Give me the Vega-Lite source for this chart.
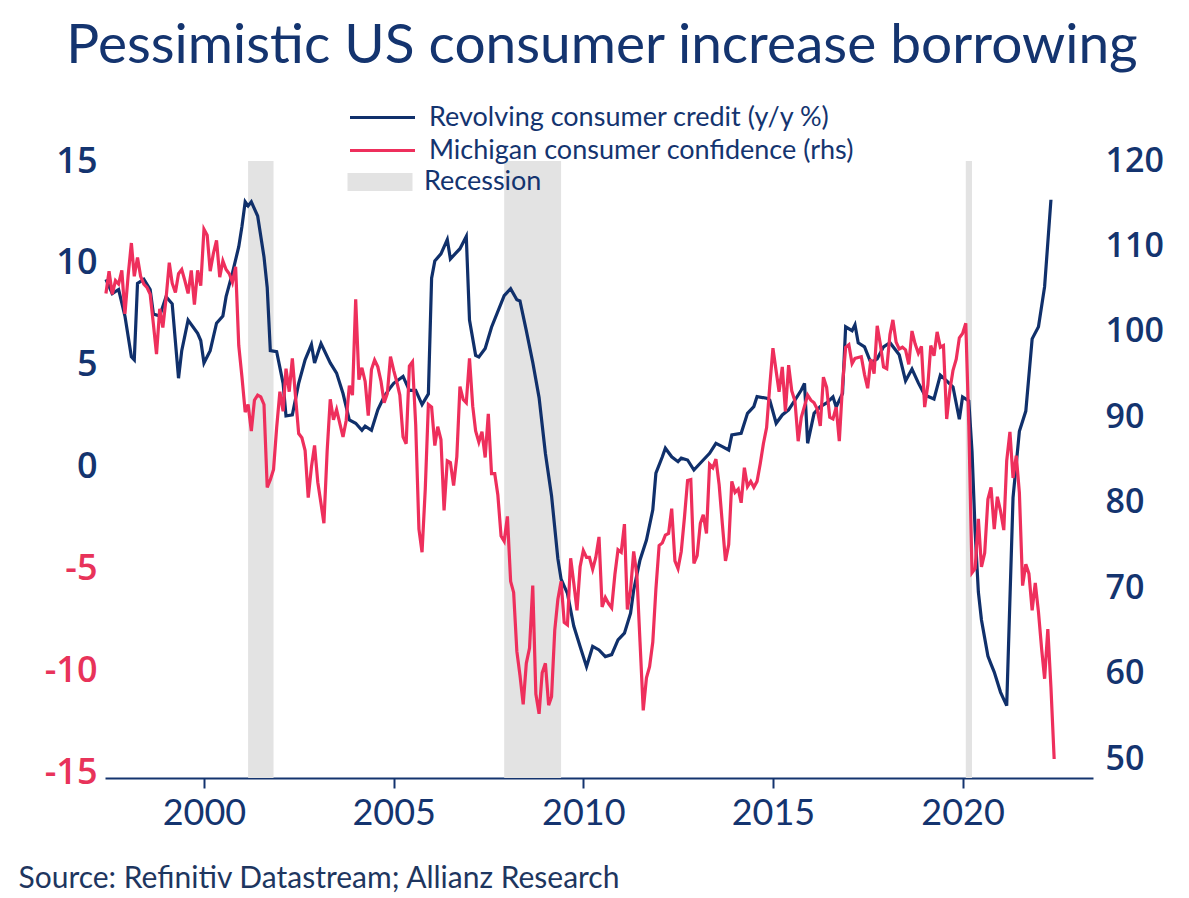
{
  "$schema": "https://vega.github.io/schema/vega-lite/v6.json",
  "width": 988,
  "height": 617,
  "autosize": {"type": "none"},
  "padding": {"left": 105, "top": 161, "right": 96, "bottom": 120},
  "background": "white",
  "title": {
    "text": "Pessimistic US consumer increase borrowing",
    "anchor": "middle",
    "frame": "group",
    "font": "Lato",
    "fontSize": 55,
    "fontWeight": "normal",
    "color": "#14346f",
    "dx": 3,
    "offset": 29
  },
  "config": {"view": {"stroke": null}, "font": "Lato"},
  "datasets": {
    "recessions": [
      {"start": "2001-03-01", "end": "2001-11-01"},
      {"start": "2007-12-01", "end": "2009-06-01"},
      {"start": "2020-02-01", "end": "2020-04-01"}
    ],
    "credit": [
      {"date": "1997-06-01", "value": 9.2},
      {"date": "1997-08-01", "value": 8.5},
      {"date": "1997-10-01", "value": 8.7},
      {"date": "1997-12-01", "value": 7.4},
      {"date": "1998-02-01", "value": 5.4},
      {"date": "1998-03-01", "value": 5.25},
      {"date": "1998-04-01", "value": 9.0},
      {"date": "1998-06-01", "value": 9.2},
      {"date": "1998-08-01", "value": 8.7},
      {"date": "1998-09-01", "value": 7.5},
      {"date": "1998-11-01", "value": 7.4},
      {"date": "1999-01-01", "value": 8.35},
      {"date": "1999-03-01", "value": 8.0},
      {"date": "1999-05-01", "value": 4.35},
      {"date": "1999-06-01", "value": 5.7},
      {"date": "1999-08-01", "value": 7.2},
      {"date": "1999-11-01", "value": 6.55},
      {"date": "1999-12-01", "value": 6.2},
      {"date": "2000-01-01", "value": 5.1},
      {"date": "2000-03-01", "value": 5.7},
      {"date": "2000-05-01", "value": 7.05},
      {"date": "2000-07-01", "value": 7.4},
      {"date": "2000-08-01", "value": 8.35},
      {"date": "2000-10-01", "value": 9.5},
      {"date": "2000-12-01", "value": 10.8},
      {"date": "2001-01-01", "value": 11.8},
      {"date": "2001-02-01", "value": 13.0},
      {"date": "2001-03-01", "value": 12.8},
      {"date": "2001-04-01", "value": 13.0},
      {"date": "2001-06-01", "value": 12.3},
      {"date": "2001-08-01", "value": 10.3},
      {"date": "2001-09-01", "value": 8.8},
      {"date": "2001-10-01", "value": 5.7},
      {"date": "2001-12-01", "value": 5.65},
      {"date": "2002-02-01", "value": 4.1},
      {"date": "2002-03-01", "value": 2.5},
      {"date": "2002-05-01", "value": 2.55},
      {"date": "2002-07-01", "value": 4.1},
      {"date": "2002-09-01", "value": 5.25},
      {"date": "2002-11-01", "value": 6.0},
      {"date": "2002-12-01", "value": 5.1},
      {"date": "2003-02-01", "value": 6.05},
      {"date": "2003-05-01", "value": 5.1},
      {"date": "2003-07-01", "value": 4.6},
      {"date": "2003-09-01", "value": 3.6},
      {"date": "2003-11-01", "value": 2.3},
      {"date": "2004-01-01", "value": 2.14},
      {"date": "2004-03-01", "value": 1.8},
      {"date": "2004-04-01", "value": 2.0},
      {"date": "2004-06-01", "value": 1.8},
      {"date": "2004-08-01", "value": 2.8},
      {"date": "2004-10-01", "value": 3.45},
      {"date": "2004-12-01", "value": 3.9},
      {"date": "2005-01-01", "value": 4.1},
      {"date": "2005-04-01", "value": 4.44},
      {"date": "2005-06-01", "value": 3.75},
      {"date": "2005-08-01", "value": 3.75},
      {"date": "2005-10-01", "value": 3.06},
      {"date": "2005-12-01", "value": 3.58},
      {"date": "2006-01-01", "value": 9.25},
      {"date": "2006-02-01", "value": 10.1},
      {"date": "2006-04-01", "value": 10.45},
      {"date": "2006-06-01", "value": 11.15},
      {"date": "2006-07-01", "value": 10.2},
      {"date": "2006-10-01", "value": 10.7},
      {"date": "2006-12-01", "value": 11.3},
      {"date": "2007-01-01", "value": 7.2},
      {"date": "2007-03-01", "value": 5.47},
      {"date": "2007-04-01", "value": 5.39},
      {"date": "2007-06-01", "value": 5.81},
      {"date": "2007-08-01", "value": 6.85},
      {"date": "2007-12-01", "value": 8.4},
      {"date": "2008-02-01", "value": 8.74},
      {"date": "2008-04-01", "value": 8.2},
      {"date": "2008-05-01", "value": 8.14},
      {"date": "2008-07-01", "value": 6.68},
      {"date": "2008-09-01", "value": 5.13},
      {"date": "2008-11-01", "value": 3.4},
      {"date": "2009-01-01", "value": 0.66},
      {"date": "2009-03-01", "value": -1.41},
      {"date": "2009-05-01", "value": -4.5},
      {"date": "2009-06-01", "value": -5.5},
      {"date": "2009-08-01", "value": -6.2},
      {"date": "2009-10-01", "value": -7.8},
      {"date": "2009-12-01", "value": -8.8},
      {"date": "2010-02-01", "value": -9.79},
      {"date": "2010-04-01", "value": -8.8},
      {"date": "2010-06-01", "value": -8.97},
      {"date": "2010-08-01", "value": -9.3},
      {"date": "2010-10-01", "value": -9.2},
      {"date": "2010-12-01", "value": -8.48},
      {"date": "2011-02-01", "value": -8.15},
      {"date": "2011-04-01", "value": -7.17},
      {"date": "2011-05-01", "value": -6.03},
      {"date": "2011-07-01", "value": -4.56},
      {"date": "2011-09-01", "value": -3.58},
      {"date": "2011-11-01", "value": -2.1},
      {"date": "2011-12-01", "value": -0.3},
      {"date": "2012-02-01", "value": 0.5},
      {"date": "2012-03-01", "value": 0.92},
      {"date": "2012-05-01", "value": 0.5},
      {"date": "2012-07-01", "value": 0.26},
      {"date": "2012-08-01", "value": 0.43},
      {"date": "2012-10-01", "value": 0.34},
      {"date": "2012-12-01", "value": -0.15},
      {"date": "2013-03-01", "value": 0.34},
      {"date": "2013-05-01", "value": 0.67},
      {"date": "2013-07-01", "value": 1.16},
      {"date": "2013-09-01", "value": 1.0},
      {"date": "2013-11-01", "value": 0.83},
      {"date": "2013-12-01", "value": 1.57},
      {"date": "2014-03-01", "value": 1.65},
      {"date": "2014-05-01", "value": 2.63},
      {"date": "2014-07-01", "value": 2.96},
      {"date": "2014-08-01", "value": 3.45},
      {"date": "2014-11-01", "value": 3.37},
      {"date": "2014-12-01", "value": 3.28},
      {"date": "2015-02-01", "value": 2.14},
      {"date": "2015-04-01", "value": 2.55},
      {"date": "2015-06-01", "value": 2.8},
      {"date": "2015-08-01", "value": 3.28},
      {"date": "2015-10-01", "value": 3.77},
      {"date": "2015-11-01", "value": 4.1},
      {"date": "2015-12-01", "value": 1.16},
      {"date": "2016-02-01", "value": 2.63},
      {"date": "2016-04-01", "value": 2.96},
      {"date": "2016-06-01", "value": 3.14},
      {"date": "2016-08-01", "value": 3.43},
      {"date": "2016-09-01", "value": 2.94},
      {"date": "2016-11-01", "value": 3.6},
      {"date": "2016-12-01", "value": 6.87},
      {"date": "2017-02-01", "value": 6.68},
      {"date": "2017-03-01", "value": 6.97},
      {"date": "2017-04-01", "value": 6.09},
      {"date": "2017-06-01", "value": 5.89},
      {"date": "2017-08-01", "value": 5.1},
      {"date": "2017-10-01", "value": 5.3},
      {"date": "2017-12-01", "value": 5.89},
      {"date": "2018-02-01", "value": 6.09},
      {"date": "2018-05-01", "value": 5.5},
      {"date": "2018-07-01", "value": 4.22},
      {"date": "2018-09-01", "value": 4.8},
      {"date": "2018-11-01", "value": 4.12},
      {"date": "2019-01-01", "value": 3.53},
      {"date": "2019-04-01", "value": 3.33},
      {"date": "2019-06-01", "value": 4.5},
      {"date": "2019-08-01", "value": 4.22},
      {"date": "2019-10-01", "value": 3.92},
      {"date": "2019-12-01", "value": 2.34},
      {"date": "2020-01-01", "value": 3.43},
      {"date": "2020-03-01", "value": 3.24},
      {"date": "2020-04-01", "value": 0.77},
      {"date": "2020-05-01", "value": -3.17},
      {"date": "2020-06-01", "value": -6.13},
      {"date": "2020-07-01", "value": -7.5},
      {"date": "2020-09-01", "value": -9.27},
      {"date": "2020-10-01", "value": -9.67},
      {"date": "2020-11-01", "value": -10.06},
      {"date": "2021-01-01", "value": -11.05},
      {"date": "2021-03-01", "value": -11.7},
      {"date": "2021-04-01", "value": -6.5},
      {"date": "2021-05-01", "value": -1.5},
      {"date": "2021-07-01", "value": 1.75},
      {"date": "2021-09-01", "value": 2.74},
      {"date": "2021-11-01", "value": 6.28},
      {"date": "2022-01-01", "value": 6.87},
      {"date": "2022-03-01", "value": 8.84},
      {"date": "2022-05-01", "value": 13.1}
    ],
    "michigan": [
      {"date": "1997-06-01", "value": 104.5}, {"date": "1997-07-01", "value": 107.1}, {"date": "1997-08-01", "value": 104.4}, {"date": "1997-09-01", "value": 106.0}, {"date": "1997-10-01", "value": 105.6}, {"date": "1997-11-01", "value": 107.2}, {"date": "1997-12-01", "value": 102.1},
      {"date": "1998-01-01", "value": 106.6}, {"date": "1998-02-01", "value": 110.4}, {"date": "1998-03-01", "value": 106.5}, {"date": "1998-04-01", "value": 108.7}, {"date": "1998-05-01", "value": 106.5}, {"date": "1998-06-01", "value": 105.6}, {"date": "1998-07-01", "value": 105.2}, {"date": "1998-08-01", "value": 104.4}, {"date": "1998-09-01", "value": 100.9}, {"date": "1998-10-01", "value": 97.4}, {"date": "1998-11-01", "value": 102.7}, {"date": "1998-12-01", "value": 100.5},
      {"date": "1999-01-01", "value": 103.9}, {"date": "1999-02-01", "value": 108.1}, {"date": "1999-03-01", "value": 105.7}, {"date": "1999-04-01", "value": 104.6}, {"date": "1999-05-01", "value": 106.8}, {"date": "1999-06-01", "value": 107.3}, {"date": "1999-07-01", "value": 106.0}, {"date": "1999-08-01", "value": 104.5}, {"date": "1999-09-01", "value": 107.2}, {"date": "1999-10-01", "value": 103.2}, {"date": "1999-11-01", "value": 107.2}, {"date": "1999-12-01", "value": 105.4},
      {"date": "2000-01-01", "value": 112.0}, {"date": "2000-02-01", "value": 111.3}, {"date": "2000-03-01", "value": 107.1}, {"date": "2000-04-01", "value": 109.2}, {"date": "2000-05-01", "value": 110.7}, {"date": "2000-06-01", "value": 106.4}, {"date": "2000-07-01", "value": 108.3}, {"date": "2000-08-01", "value": 107.3}, {"date": "2000-09-01", "value": 106.8}, {"date": "2000-10-01", "value": 105.8}, {"date": "2000-11-01", "value": 107.6}, {"date": "2000-12-01", "value": 98.4},
      {"date": "2001-01-01", "value": 94.7}, {"date": "2001-02-01", "value": 90.6}, {"date": "2001-03-01", "value": 91.5}, {"date": "2001-04-01", "value": 88.4}, {"date": "2001-05-01", "value": 92.0}, {"date": "2001-06-01", "value": 92.6}, {"date": "2001-07-01", "value": 92.4}, {"date": "2001-08-01", "value": 91.5}, {"date": "2001-09-01", "value": 81.8}, {"date": "2001-10-01", "value": 82.7}, {"date": "2001-11-01", "value": 83.9}, {"date": "2001-12-01", "value": 88.8},
      {"date": "2002-01-01", "value": 93.0}, {"date": "2002-02-01", "value": 90.7}, {"date": "2002-03-01", "value": 95.7}, {"date": "2002-04-01", "value": 93.0}, {"date": "2002-05-01", "value": 96.9}, {"date": "2002-06-01", "value": 92.4}, {"date": "2002-07-01", "value": 88.1}, {"date": "2002-08-01", "value": 87.6}, {"date": "2002-09-01", "value": 86.1}, {"date": "2002-10-01", "value": 80.6}, {"date": "2002-11-01", "value": 84.2}, {"date": "2002-12-01", "value": 86.7},
      {"date": "2003-01-01", "value": 82.4}, {"date": "2003-02-01", "value": 79.9}, {"date": "2003-03-01", "value": 77.6}, {"date": "2003-04-01", "value": 86.0}, {"date": "2003-05-01", "value": 92.1}, {"date": "2003-06-01", "value": 89.7}, {"date": "2003-07-01", "value": 90.9}, {"date": "2003-08-01", "value": 89.3}, {"date": "2003-09-01", "value": 87.7}, {"date": "2003-10-01", "value": 89.6}, {"date": "2003-11-01", "value": 93.7}, {"date": "2003-12-01", "value": 92.6},
      {"date": "2004-01-01", "value": 103.8}, {"date": "2004-02-01", "value": 94.4}, {"date": "2004-03-01", "value": 95.8}, {"date": "2004-04-01", "value": 94.2}, {"date": "2004-05-01", "value": 90.2}, {"date": "2004-06-01", "value": 95.6}, {"date": "2004-07-01", "value": 96.7}, {"date": "2004-08-01", "value": 95.9}, {"date": "2004-09-01", "value": 94.2}, {"date": "2004-10-01", "value": 91.7}, {"date": "2004-11-01", "value": 92.8}, {"date": "2004-12-01", "value": 97.1},
      {"date": "2005-01-01", "value": 95.5}, {"date": "2005-02-01", "value": 94.1}, {"date": "2005-03-01", "value": 92.6}, {"date": "2005-04-01", "value": 87.7}, {"date": "2005-05-01", "value": 86.9}, {"date": "2005-06-01", "value": 96.0}, {"date": "2005-07-01", "value": 96.5}, {"date": "2005-08-01", "value": 89.1}, {"date": "2005-09-01", "value": 76.9}, {"date": "2005-10-01", "value": 74.2}, {"date": "2005-11-01", "value": 81.6}, {"date": "2005-12-01", "value": 91.5},
      {"date": "2006-01-01", "value": 91.2}, {"date": "2006-02-01", "value": 86.7}, {"date": "2006-03-01", "value": 88.9}, {"date": "2006-04-01", "value": 87.4}, {"date": "2006-05-01", "value": 79.1}, {"date": "2006-06-01", "value": 84.9}, {"date": "2006-07-01", "value": 84.7}, {"date": "2006-08-01", "value": 82.0}, {"date": "2006-09-01", "value": 85.4}, {"date": "2006-10-01", "value": 93.6}, {"date": "2006-11-01", "value": 92.1}, {"date": "2006-12-01", "value": 91.7},
      {"date": "2007-01-01", "value": 96.9}, {"date": "2007-02-01", "value": 91.3}, {"date": "2007-03-01", "value": 88.4}, {"date": "2007-04-01", "value": 87.1}, {"date": "2007-05-01", "value": 88.3}, {"date": "2007-06-01", "value": 85.3}, {"date": "2007-07-01", "value": 90.4}, {"date": "2007-08-01", "value": 83.4}, {"date": "2007-09-01", "value": 83.4}, {"date": "2007-10-01", "value": 80.9}, {"date": "2007-11-01", "value": 76.1}, {"date": "2007-12-01", "value": 75.5},
      {"date": "2008-01-01", "value": 78.4}, {"date": "2008-02-01", "value": 70.8}, {"date": "2008-03-01", "value": 69.5}, {"date": "2008-04-01", "value": 62.6}, {"date": "2008-05-01", "value": 59.8}, {"date": "2008-06-01", "value": 56.4}, {"date": "2008-07-01", "value": 61.2}, {"date": "2008-08-01", "value": 63.0}, {"date": "2008-09-01", "value": 70.3}, {"date": "2008-10-01", "value": 57.6}, {"date": "2008-11-01", "value": 55.3}, {"date": "2008-12-01", "value": 60.1},
      {"date": "2009-01-01", "value": 61.2}, {"date": "2009-02-01", "value": 56.3}, {"date": "2009-03-01", "value": 57.3}, {"date": "2009-04-01", "value": 65.1}, {"date": "2009-05-01", "value": 68.7}, {"date": "2009-06-01", "value": 70.8}, {"date": "2009-07-01", "value": 66.0}, {"date": "2009-08-01", "value": 65.7}, {"date": "2009-09-01", "value": 73.5}, {"date": "2009-10-01", "value": 70.6}, {"date": "2009-11-01", "value": 67.4}, {"date": "2009-12-01", "value": 72.5},
      {"date": "2010-01-01", "value": 74.4}, {"date": "2010-02-01", "value": 73.6}, {"date": "2010-03-01", "value": 73.6}, {"date": "2010-04-01", "value": 72.2}, {"date": "2010-05-01", "value": 73.6}, {"date": "2010-06-01", "value": 76.0}, {"date": "2010-07-01", "value": 67.8}, {"date": "2010-08-01", "value": 68.9}, {"date": "2010-09-01", "value": 68.2}, {"date": "2010-10-01", "value": 67.7}, {"date": "2010-11-01", "value": 71.6}, {"date": "2010-12-01", "value": 74.5},
      {"date": "2011-01-01", "value": 74.2}, {"date": "2011-02-01", "value": 77.5}, {"date": "2011-03-01", "value": 67.5}, {"date": "2011-04-01", "value": 69.8}, {"date": "2011-05-01", "value": 74.3}, {"date": "2011-06-01", "value": 71.5}, {"date": "2011-07-01", "value": 63.7}, {"date": "2011-08-01", "value": 55.7}, {"date": "2011-09-01", "value": 59.5}, {"date": "2011-10-01", "value": 60.8}, {"date": "2011-11-01", "value": 63.7}, {"date": "2011-12-01", "value": 69.9},
      {"date": "2012-01-01", "value": 75.0}, {"date": "2012-02-01", "value": 75.3}, {"date": "2012-03-01", "value": 76.2}, {"date": "2012-04-01", "value": 76.4}, {"date": "2012-05-01", "value": 79.3}, {"date": "2012-06-01", "value": 73.2}, {"date": "2012-07-01", "value": 72.3}, {"date": "2012-08-01", "value": 74.3}, {"date": "2012-09-01", "value": 78.3}, {"date": "2012-10-01", "value": 82.6}, {"date": "2012-11-01", "value": 82.7}, {"date": "2012-12-01", "value": 72.9},
      {"date": "2013-01-01", "value": 73.8}, {"date": "2013-02-01", "value": 77.6}, {"date": "2013-03-01", "value": 78.6}, {"date": "2013-04-01", "value": 76.4}, {"date": "2013-05-01", "value": 84.5}, {"date": "2013-06-01", "value": 84.1}, {"date": "2013-07-01", "value": 85.1}, {"date": "2013-08-01", "value": 82.1}, {"date": "2013-09-01", "value": 77.5}, {"date": "2013-10-01", "value": 73.2}, {"date": "2013-11-01", "value": 75.1}, {"date": "2013-12-01", "value": 82.5},
      {"date": "2014-01-01", "value": 81.2}, {"date": "2014-02-01", "value": 81.6}, {"date": "2014-03-01", "value": 80.0}, {"date": "2014-04-01", "value": 84.1}, {"date": "2014-05-01", "value": 81.9}, {"date": "2014-06-01", "value": 82.5}, {"date": "2014-07-01", "value": 81.8}, {"date": "2014-08-01", "value": 82.5}, {"date": "2014-09-01", "value": 84.6}, {"date": "2014-10-01", "value": 86.9}, {"date": "2014-11-01", "value": 88.8}, {"date": "2014-12-01", "value": 93.6},
      {"date": "2015-01-01", "value": 98.1}, {"date": "2015-02-01", "value": 95.4}, {"date": "2015-03-01", "value": 93.0}, {"date": "2015-04-01", "value": 95.9}, {"date": "2015-05-01", "value": 90.7}, {"date": "2015-06-01", "value": 96.1}, {"date": "2015-07-01", "value": 93.1}, {"date": "2015-08-01", "value": 91.9}, {"date": "2015-09-01", "value": 87.2}, {"date": "2015-10-01", "value": 90.0}, {"date": "2015-11-01", "value": 91.3}, {"date": "2015-12-01", "value": 92.6},
      {"date": "2016-01-01", "value": 92.0}, {"date": "2016-02-01", "value": 91.7}, {"date": "2016-03-01", "value": 91.0}, {"date": "2016-04-01", "value": 89.0}, {"date": "2016-05-01", "value": 94.7}, {"date": "2016-06-01", "value": 93.5}, {"date": "2016-07-01", "value": 90.0}, {"date": "2016-08-01", "value": 89.8}, {"date": "2016-09-01", "value": 91.2}, {"date": "2016-10-01", "value": 87.2}, {"date": "2016-11-01", "value": 93.8}, {"date": "2016-12-01", "value": 98.2},
      {"date": "2017-01-01", "value": 98.5}, {"date": "2017-02-01", "value": 96.3}, {"date": "2017-03-01", "value": 96.9}, {"date": "2017-04-01", "value": 97.0}, {"date": "2017-05-01", "value": 97.1}, {"date": "2017-06-01", "value": 95.0}, {"date": "2017-07-01", "value": 93.4}, {"date": "2017-08-01", "value": 96.8}, {"date": "2017-09-01", "value": 95.1}, {"date": "2017-10-01", "value": 100.7}, {"date": "2017-11-01", "value": 98.5}, {"date": "2017-12-01", "value": 95.9},
      {"date": "2018-01-01", "value": 95.7}, {"date": "2018-02-01", "value": 99.7}, {"date": "2018-03-01", "value": 101.4}, {"date": "2018-04-01", "value": 98.8}, {"date": "2018-05-01", "value": 98.0}, {"date": "2018-06-01", "value": 98.2}, {"date": "2018-07-01", "value": 97.9}, {"date": "2018-08-01", "value": 96.2}, {"date": "2018-09-01", "value": 100.1}, {"date": "2018-10-01", "value": 98.6}, {"date": "2018-11-01", "value": 97.5}, {"date": "2018-12-01", "value": 98.3},
      {"date": "2019-01-01", "value": 91.2}, {"date": "2019-02-01", "value": 93.8}, {"date": "2019-03-01", "value": 98.4}, {"date": "2019-04-01", "value": 97.2}, {"date": "2019-05-01", "value": 100.0}, {"date": "2019-06-01", "value": 98.2}, {"date": "2019-07-01", "value": 98.4}, {"date": "2019-08-01", "value": 89.8}, {"date": "2019-09-01", "value": 93.2}, {"date": "2019-10-01", "value": 95.5}, {"date": "2019-11-01", "value": 96.8}, {"date": "2019-12-01", "value": 99.3},
      {"date": "2020-01-01", "value": 99.8}, {"date": "2020-02-01", "value": 101.0}, {"date": "2020-03-01", "value": 89.1}, {"date": "2020-04-01", "value": 71.8}, {"date": "2020-05-01", "value": 72.3}, {"date": "2020-06-01", "value": 78.1}, {"date": "2020-07-01", "value": 72.5}, {"date": "2020-08-01", "value": 74.1}, {"date": "2020-09-01", "value": 80.4}, {"date": "2020-10-01", "value": 81.8}, {"date": "2020-11-01", "value": 76.9}, {"date": "2020-12-01", "value": 80.7},
      {"date": "2021-01-01", "value": 79.0}, {"date": "2021-02-01", "value": 76.8}, {"date": "2021-03-01", "value": 84.9}, {"date": "2021-04-01", "value": 88.3}, {"date": "2021-05-01", "value": 82.9}, {"date": "2021-06-01", "value": 85.5}, {"date": "2021-07-01", "value": 81.2}, {"date": "2021-08-01", "value": 70.3}, {"date": "2021-09-01", "value": 72.8}, {"date": "2021-10-01", "value": 71.7}, {"date": "2021-11-01", "value": 67.4}, {"date": "2021-12-01", "value": 70.6},
      {"date": "2022-01-01", "value": 67.2}, {"date": "2022-02-01", "value": 62.8}, {"date": "2022-03-01", "value": 59.4}, {"date": "2022-04-01", "value": 65.2}, {"date": "2022-05-01", "value": 58.4}, {"date": "2022-06-01", "value": 50.0}
    ]
  },
  "layer": [
    {
      "data": {"name": "recessions"},
      "mark": {"type": "rect"},
      "encoding": {
        "x": {
          "field": "start",
          "type": "temporal",
          "scale": {
            "type": "utc",
            "domain": [
              {"year": 1997, "month": 5, "date": 23, "utc": true},
              {"year": 2023, "month": 6, "date": 10, "utc": true}
            ]
          },
          "axis": {
            "values": [
              {"year": 2000, "month": 1, "date": 1, "utc": true},
              {"year": 2005, "month": 1, "date": 1, "utc": true},
              {"year": 2010, "month": 1, "date": 1, "utc": true},
              {"year": 2015, "month": 1, "date": 1, "utc": true},
              {"year": 2020, "month": 1, "date": 1, "utc": true}
            ],
            "format": "%Y",
            "grid": false,
            "domainColor": "#14346f",
            "domainWidth": 2,
            "tickColor": "#14346f",
            "tickWidth": 2,
            "tickSize": 10,
            "labelFont": "Lato",
            "labelFontSize": 36,
            "labelColor": "#14346f",
            "labelPadding": 8,
            "title": "Source: Refinitiv Datastream; Allianz Research",
            "titleFont": "Lato",
            "titleFontSize": 30,
            "titleFontWeight": "normal",
            "titleColor": "#1e365f",
            "titleAnchor": "start",
            "titleAlign": "left",
            "titleBaseline": "middle",
            "titleX": -87,
            "titleY": 100
          }
        },
        "x2": {"field": "end"},
        "fill": {
          "datum": "Recession",
          "scale": {"range": ["#e3e3e3"]},
          "legend": {
            "orient": "none",
            "legendX": 256,
            "legendY": 2,
            "title": null,
            "symbolType": "M-3.25,0H3.25",
            "symbolStrokeColor": "#e3e3e3",
            "symbolStrokeWidth": 18,
            "symbolSize": 400,
            "labelFont": "Lato",
            "labelFontSize": 27,
            "labelColor": "#14346f",
            "labelOffset": 25,
            "labelLimit": 600
          }
        }
      }
    },
    {
      "data": {"name": "credit"},
      "mark": {"type": "line", "strokeWidth": 3.2},
      "encoding": {
        "x": {"field": "date", "type": "temporal"},
        "y": {
          "field": "value",
          "type": "quantitative",
          "scale": {"domain": [-15.25, 15], "nice": false, "zero": false},
          "axis": {
            "values": [-15, -10, -5, 0, 5, 10, 15],
            "labelExpr": "'' + datum.value",
            "title": null,
            "grid": false,
            "domain": false,
            "ticks": false,
            "labelFont": "Open Sans",
            "labelFontSize": 36,
            "labelFontWeight": 600,
            "labelPadding": 8,
            "labelColor": {"condition": {"test": "datum.value < 0", "value": "#e8335a"}, "value": "#14346f"}
          }
        },
        "color": {
          "datum": "Revolving consumer credit (y/y %)",
          "scale": {
            "domain": ["Revolving consumer credit (y/y %)", "Michigan consumer confidence (rhs)"],
            "range": ["#10306b", "#ee2f5c"]
          },
          "legend": {
            "orient": "none",
            "legendX": 264,
            "legendY": -57,
            "title": null,
            "symbolType": "M-3.25,0H3.25",
            "symbolStrokeWidth": 3,
            "symbolSize": 400,
            "labelFont": "Lato",
            "labelFontSize": 27,
            "labelColor": "#14346f",
            "labelOffset": 33,
            "labelLimit": 600,
            "rowPadding": 5
          }
        }
      }
    },
    {
      "data": {"name": "michigan"},
      "mark": {"type": "line", "strokeWidth": 3.2},
      "encoding": {
        "x": {"field": "date", "type": "temporal"},
        "y": {
          "field": "value",
          "type": "quantitative",
          "scale": {"domain": [47.78, 120], "nice": false, "zero": false},
          "axis": {
            "orient": "right",
            "values": [50, 60, 70, 80, 90, 100, 110, 120],
            "title": null,
            "grid": false,
            "domain": false,
            "ticks": false,
            "labelFont": "Open Sans",
            "labelFontSize": 34,
            "labelFontWeight": 600,
            "labelPadding": 12,
            "labelColor": "#14346f"
          }
        },
        "color": {"datum": "Michigan consumer confidence (rhs)"}
      }
    }
  ],
  "resolve": {"scale": {"y": "independent"}}
}
